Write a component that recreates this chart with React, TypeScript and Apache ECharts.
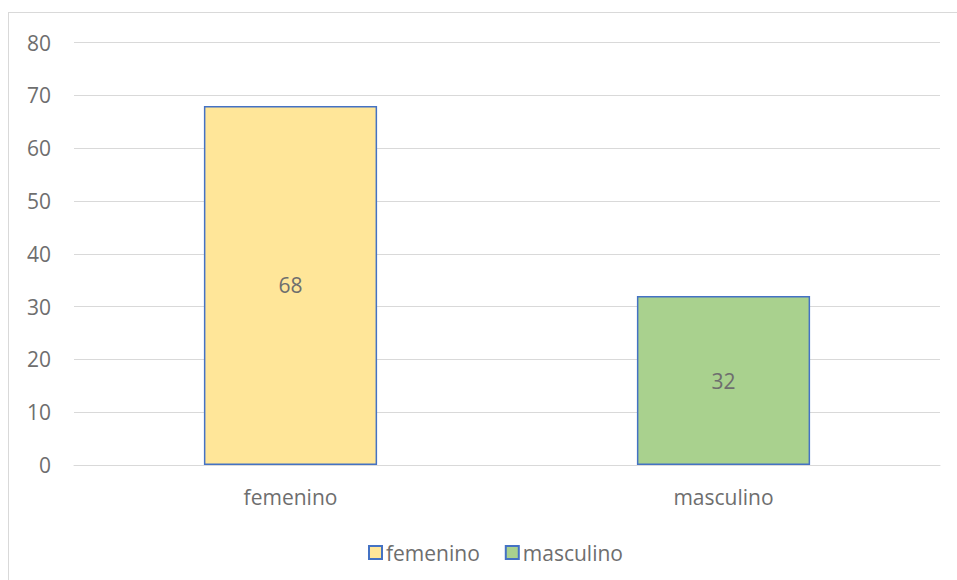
import React, { useEffect, useRef } from "react";
import * as echarts from "echarts";

const categories = ["femenino", "masculino"];
const seriesNames = ["femenino", "masculino"];
const femeninoValues: (number | string)[] = [68, "-"];
const masculinoValues: (number | string)[] = ["-", 32];
const yTicks = { min: 0, max: 80, interval: 10 };

const FONT = "'Open Sans', 'Liberation Sans', sans-serif";
const TEXT = "#6e6e6e";
const FS = 21;

export default function App() {
  const ref = useRef<HTMLDivElement>(null);
  useEffect(() => {
    if (!ref.current) return;
    const chart = echarts.init(ref.current, undefined, { renderer: "svg" });
    const label = {
      show: true,
      position: "inside" as const,
      color: TEXT,
      fontSize: FS,
      fontFamily: FONT,
    };
    chart.setOption({
      animation: false,
      backgroundColor: "#ffffff",
      textStyle: { fontFamily: FONT },
      grid: { left: 65, right: 17, top: 29.5, bottom: 115, containLabel: false },
      legend: {
        data: seriesNames,
        left: 354,
        top: 524,
        itemWidth: 13,
        itemHeight: 13,
        itemGap: 25,
        icon: "rect",
        textStyle: { color: TEXT, fontSize: FS, fontFamily: FONT, padding: [0, 0, 0, -1] },
      },
      xAxis: {
        type: "category",
        data: categories,
        axisLine: { show: true, lineStyle: { color: "#d9d9d9", width: 1 } },
        axisTick: { show: false },
        axisLabel: { color: TEXT, fontSize: FS, fontFamily: FONT, margin: 21 },
      },
      yAxis: {
        type: "value",
        min: yTicks.min,
        max: yTicks.max,
        interval: yTicks.interval,
        axisLine: { show: false },
        axisTick: { show: false },
        splitLine: { lineStyle: { color: "#d9d9d9", width: 1 } },
        axisLabel: { color: TEXT, fontSize: FS, fontFamily: FONT, margin: 23 },
      },
      series: [
        {
          name: seriesNames[0],
          type: "bar",
          stack: "all",
          barWidth: "40%",
          data: femeninoValues,
          itemStyle: { color: "#FFE699", borderColor: "#4472C4", borderWidth: 1.5 },
          label,
        },
        {
          name: seriesNames[1],
          type: "bar",
          stack: "all",
          barWidth: "40%",
          data: masculinoValues,
          itemStyle: { color: "#A9D18E", borderColor: "#4472C4", borderWidth: 1.5 },
          label,
        },
      ],
    });
    return () => chart.dispose();
  }, []);
  return (
    <div
      style={{
        position: "absolute",
        left: 8,
        top: 12,
        width: 949,
        height: 568,
        boxSizing: "border-box",
        borderLeft: "1px solid #d9d9d9",
        borderTop: "1px solid #d9d9d9",
      }}
    >
      <div ref={ref} style={{ width: 948, height: 567 }} />
    </div>
  );
}
